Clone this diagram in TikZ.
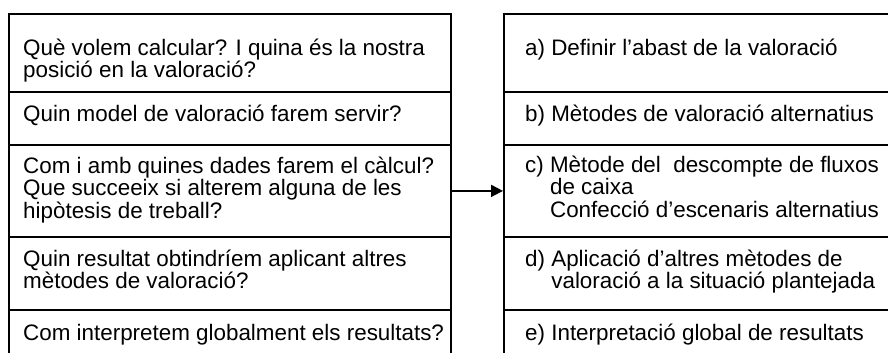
\documentclass[tikz,border=0pt]{standalone}
\usepackage{fontspec}
\setmainfont{Liberation Sans}
\usepackage{tikz}
\usetikzlibrary{arrows.meta}

\newcommand{\capstrut}{\rule{0pt}{18bp}}

\begin{document}
\begin{tikzpicture}[x=1bp, y=-1bp,
		row/.style={draw, rectangle, line width=1.8bp, anchor=north west, inner sep=0pt},
		leftrow/.style={row, minimum width=442bp},
		rightrow/.style={row, minimum width=400bp},
		txt/.style={
			anchor=north west,
			inner sep=0pt,
			align=left,
			font=\fontsize{22.4bp}{22.5bp}\selectfont
		},
		mainarrow/.style={-{Triangle[length=12bp, width=12bp]}, line width=1.8bp}
		]
		\useasboundingbox (0,0) rectangle (888,352);
		\clip (0,0) rectangle (888,352);
		
		% --- Left column: questions ---
		\node[leftrow, minimum height=78bp] (L1) at (8,12.7) {};
		\node[leftrow, minimum height=53.3bp] (L2) at (8,90.7) {};
		\node[leftrow, minimum height=92bp] (L3) at (8,144) {};
		\node[leftrow, minimum height=73bp] (L4) at (8,236) {};
		\node[leftrow, minimum height=60bp] (L5) at (8,309) {};
		
		\node[txt] (q1) at (23,37) {\capstrut Què volem calcular? I quina és la nostra\\posició en la valoració?};
		\node[txt] (q2) at (23,103) {\capstrut Quin model de valoració farem servir?};
		\node[txt] (q3) at (23,155) {\capstrut Com i amb quines dades farem el càlcul?\\Que succeeix si alterem alguna de les\\hipòtesis de treball?};
		\node[txt] (q4) at (23,248) {\capstrut Quin resultat obtindríem aplicant altres\\mètodes de valoració?};
		\node[txt] (q5) at (23,322) {\capstrut Com interpretem globalment els resultats?};
		
		% --- Right column: steps ---
		\node[rightrow, minimum height=78bp] (R1) at (503,12.7) {};
		\node[rightrow, minimum height=53.3bp] (R2) at (503,90.7) {};
		\node[rightrow, minimum height=92bp] (R3) at (503,144) {};
		\node[rightrow, minimum height=73bp] (R4) at (503,236) {};
		\node[rightrow, minimum height=60bp] (R5) at (503,309) {};
		
		\node[txt] (s1) at (525,37) {\capstrut a) Definir l’abast de la valoració};
		\node[txt] (s2) at (525,103) {\capstrut b) Mètodes de valoració alternatius};
		\node[txt] (s3) at (525,154) {\capstrut c) Mètode del~ descompte de fluxos\\\phantom{c)\ }de caixa\\\phantom{c)\ }Confecció d’escenaris alternatius};
		\node[txt] (s4) at (525,248) {\capstrut d) Aplicació d’altres mètodes de\\\phantom{d)\ }valoració a la situació plantejada};
		\node[txt] (s5) at (525,322) {\capstrut e) Interpretació global de resultats};
		
		% --- Link ---
		\draw[mainarrow] (L3.east) -- (R3.west);
		
	\end{tikzpicture}
\end{document}
